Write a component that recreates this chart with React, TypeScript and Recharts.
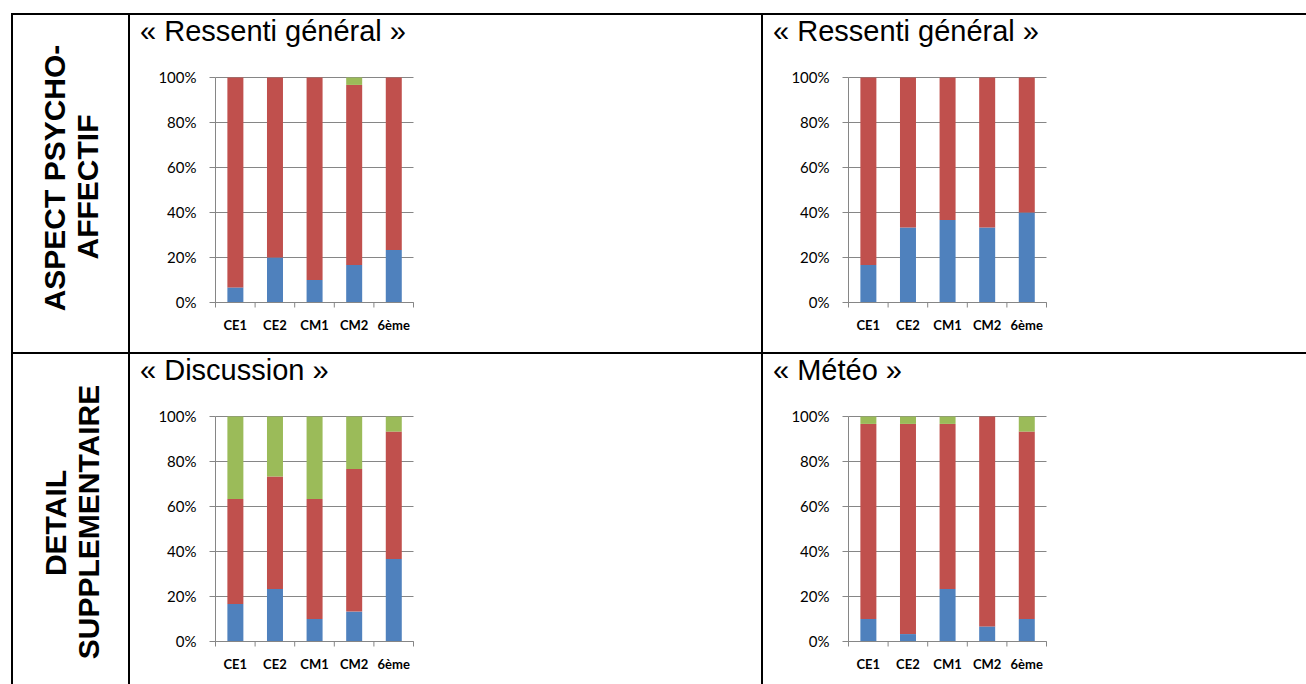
import React from "react";
import { BarChart, Bar, XAxis, YAxis, CartesianGrid } from "recharts";

// classes interrogées
const classes = ["CE1", "CE2", "CM1", "CM2", "6ème"];

// parts des réponses (%), dans l'ordre bleu / rouge / vert
const ressentiGauche_bleu = [6.7, 20, 10, 16.7, 23.3];
const ressentiGauche_rouge = [93.3, 80, 90, 80, 76.7];
const ressentiGauche_vert = [0, 0, 0, 3.3, 0];

const ressentiDroite_bleu = [16.7, 33.3, 36.7, 33.3, 40];
const ressentiDroite_rouge = [83.3, 66.7, 63.3, 66.7, 60];
const ressentiDroite_vert = [0, 0, 0, 0, 0];

const discussion_bleu = [16.7, 23.3, 10, 13.3, 36.7];
const discussion_rouge = [46.6, 50, 53.3, 63.4, 56.6];
const discussion_vert = [36.7, 26.7, 36.7, 23.3, 6.7];

const meteo_bleu = [10, 3.3, 23.3, 6.7, 10];
const meteo_rouge = [86.7, 93.4, 73.4, 93.3, 83.3];
const meteo_vert = [3.3, 3.3, 3.3, 0, 6.7];

const yTicks = [0, 0.2, 0.4, 0.6, 0.8, 1];

const BLUE = "#4F81BD";
const RED = "#C0504D";
const GREEN = "#9BBB59";
const GRID = "#868686";

const CHART_W = 290;
const CHART_H = 290;
const MARGIN = { top: 17.5, right: 11.5, bottom: 7.5, left: 0.5 };
const Y_AXIS_W = 80;
const PLOT_W = CHART_W - MARGIN.left - MARGIN.right - Y_AXIS_W;
const PLOT_H = 225;
const PLOT_BOTTOM = MARGIN.top + PLOT_H;
const STEP = PLOT_W / classes.length;

function buildRows(bleu: number[], rouge: number[], vert: number[]) {
  return classes.map((c, i) => ({ classe: c, bleu: bleu[i], rouge: rouge[i], vert: vert[i] }));
}

// graduations entre les catégories + libellé en gras
function ClassTick(props: any) {
  const { x, payload, index } = props;
  const last = index === classes.length - 1;
  return (
    <g>
      <line x1={x - STEP / 2} x2={x - STEP / 2} y1={PLOT_BOTTOM} y2={PLOT_BOTTOM + 5} stroke={GRID} />
      {last && (
        <line x1={x + STEP / 2} x2={x + STEP / 2} y1={PLOT_BOTTOM} y2={PLOT_BOTTOM + 5} stroke={GRID} />
      )}
      <text
        x={x}
        y={PLOT_BOTTOM + 27}
        textAnchor="middle"
        fontFamily="Lato"
        fontWeight="bold"
        fontSize={13}
        fill="#000"
      >
        {payload.value}
      </text>
    </g>
  );
}

function StackedChart({ rows, left, top }: { rows: any[]; left: number; top: number }) {
  return (
    <div style={{ position: "absolute", left, top }}>
      <BarChart
        width={CHART_W}
        height={CHART_H}
        data={rows}
        margin={MARGIN}
        stackOffset="expand"
        barCategoryGap="30%"
      >
        <CartesianGrid vertical={false} stroke={GRID} />
        <XAxis
          dataKey="classe"
          height={CHART_H - MARGIN.top - MARGIN.bottom - PLOT_H}
          axisLine={{ stroke: GRID }}
          tickLine={false}
          tick={<ClassTick />}
          interval={0}
        />
        <YAxis
          width={Y_AXIS_W}
          domain={[0, 1]}
          ticks={yTicks}
          tickFormatter={(v: number) => `${Math.round(v * 100)}%`}
          axisLine={{ stroke: GRID }}
          tickLine={{ stroke: GRID }}
          tickSize={6}
          tickMargin={13}
          tick={{ fontFamily: "Lato", fontSize: 15, fill: "#000" }}
        />
        <Bar dataKey="bleu" stackId="a" fill={BLUE} isAnimationActive={false} />
        <Bar dataKey="rouge" stackId="a" fill={RED} isAnimationActive={false} />
        <Bar dataKey="vert" stackId="a" fill={GREEN} isAnimationActive={false} />
      </BarChart>
    </div>
  );
}

const titleStyle: React.CSSProperties = {
  fontFamily: "'Liberation Sans', Arial, sans-serif",
  fontSize: 29,
  fill: "#000",
};

const sideStyle: React.CSSProperties = {
  fontFamily: "'Liberation Sans', Arial, sans-serif",
  fontSize: 30,
  fontWeight: "bold",
  fill: "#000",
};

export default function App() {
  return (
    <div
      style={{
        position: "absolute",
        left: 0,
        top: 0,
        width: 1306,
        height: 684,
        overflow: "hidden",
        background: "#fff",
      }}
    >
      <svg width={1306} height={684} style={{ position: "absolute", left: 0, top: 0 }}>
        {/* cadre du tableau */}
        <rect x={11} y={13} width={1295} height={2} fill="#000" />
        <rect x={11} y={352} width={1295} height={2} fill="#000" />
        <rect x={11} y={13} width={2} height={671} fill="#000" />
        <rect x={128} y={13} width={2} height={671} fill="#000" />
        <rect x={761} y={13} width={2} height={671} fill="#000" />

        {/* libellés des lignes */}
        <text x={65} y={178} textAnchor="middle" transform="rotate(-90 65 178)" style={sideStyle}>
          ASPECT PSYCHO-
        </text>
        <text x={98} y={187} textAnchor="middle" transform="rotate(-90 98 187)" style={sideStyle}>
          AFFECTIF
        </text>
        <text x={66} y={523} textAnchor="middle" transform="rotate(-90 66 523)" style={sideStyle}>
          DETAIL
        </text>
        <text x={99} y={522} textAnchor="middle" transform="rotate(-90 99 522)" style={sideStyle}>
          SUPPLEMENTAIRE
        </text>

        {/* titres */}
        <text x={140} y={41} style={titleStyle}>« Ressenti général »</text>
        <text x={773} y={41} style={titleStyle}>« Ressenti général »</text>
        <text x={140} y={380} style={titleStyle}>« Discussion »</text>
        <text x={773} y={380} style={titleStyle}>« Météo »</text>
      </svg>

      <StackedChart
        rows={buildRows(ressentiGauche_bleu, ressentiGauche_rouge, ressentiGauche_vert)}
        left={135}
        top={60}
      />
      <StackedChart
        rows={buildRows(ressentiDroite_bleu, ressentiDroite_rouge, ressentiDroite_vert)}
        left={768}
        top={60}
      />
      <StackedChart
        rows={buildRows(discussion_bleu, discussion_rouge, discussion_vert)}
        left={135}
        top={399}
      />
      <StackedChart rows={buildRows(meteo_bleu, meteo_rouge, meteo_vert)} left={768} top={399} />
    </div>
  );
}
